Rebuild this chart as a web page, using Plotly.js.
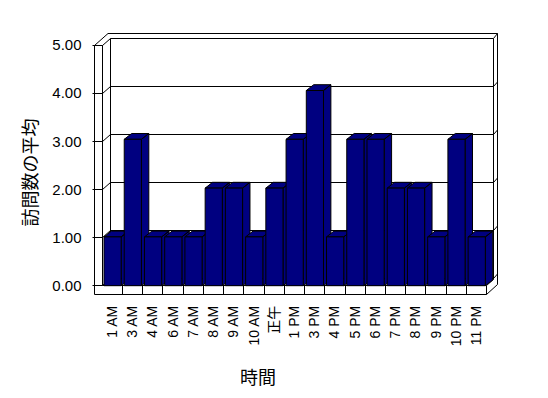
<!DOCTYPE html>
<html><head><meta charset="utf-8">
<script src="https://cdn.plot.ly/plotly-3.0.1.min.js"></script>
<style>html,body{margin:0;padding:0;background:#fff;} #chart{width:548px;height:398px;}</style>
</head><body><div id="chart"></div>
<script>
// ---- data ----
const categories = ['1 AM','3 AM','4 AM','6 AM','7 AM','8 AM','9 AM','10 AM','正午','1 PM','3 PM','4 PM','5 PM','6 PM','7 PM','8 PM','9 PM','10 PM','11 PM'];
const values = [1,3,1,1,1,2,2,1,2,3,4,1,3,3,2,2,1,3,1];
const yTickValues = [0,1,2,3,4,5];
const yTickLabels = ['0.00','1.00','2.00','3.00','4.00','5.00'];
const xTitle = '時間';
const yTitle = '訪問数の平均';

// ---- geometry (pixels) ----
const L=20, R=496, T=43, B=302;
const X0=102.3, CW=20.23;      // left edge of first category, category width
const Y0=285.7;                 // value 0 on the front plane
const SB=48.8, SA=48.14;        // px per unit: bars / front axis
const BAR_W=0.85, BAR_OFF=-0.416;
const DX=7.4/CW, DY=5.8/SB;     // bar depth
const NAVY='#000080';
const TICKFONT={family:'Liberation Sans, Arial, Noto Sans CJK JP, sans-serif', size:14, color:'#000'};
const YTICKFONT={family:'Liberation Sans, Arial, sans-serif', size:15, color:'#000'};
const CJKFONT={family:'Noto Sans CJK JP, sans-serif', size:18, color:'#000'};

const idx = categories.map((c,i)=>i);
const xRange=[(L-X0)/CW-0.5,(R-X0)/CW-0.5];
const yBarRange=[(Y0-B)/SB,(Y0-T)/SB];
const yAxRange=[(Y0-B)/SA,(Y0-T)/SA];

// 3D faces (side + top) of each bar, computed from the values
const faceTraces = idx.map(i=>{
  const v=values[i], xl=i+BAR_OFF, xr=xl+BAR_W;
  return {type:'scatter', mode:'lines', xaxis:'x', yaxis:'y',
    x:[xr,xr,xr+DX,xr+DX,xr,null,xl,xr,xr+DX,xl+DX,xl],
    y:[0,v,v+DY,DY,0,null,v,v,v+DY,v+DY,v],
    fill:'toself', fillcolor:NAVY, line:{color:'#000',width:1},
    hoverinfo:'skip', showlegend:false};
});
const barTrace = {type:'bar', x:idx, y:values, xaxis:'x', yaxis:'y2',
  width:BAR_W, offset:BAR_OFF,
  marker:{color:NAVY, line:{color:'#000', width:1}},
  hoverinfo:'skip', showlegend:false};
// carrier for the value axis (front plane scale)
const axisTrace = {type:'scatter', mode:'markers', x:[0], y:[0], xaxis:'x', yaxis:'y3',
  marker:{opacity:0, size:1}, hoverinfo:'skip', showlegend:false};

// ---- frame (walls, floor, gridlines) ----
const px = p=>(p-L)/(R-L), py = p=>(B-p)/(B-T);
const half = p=>Math.floor(p)+0.5;
const shapes=[];
function seg(x0,y0,x1,y1){shapes.push({type:'line',xref:'paper',yref:'paper',layer:'below',
  x0:px(x0),y0:py(y0),x1:px(x1),y1:py(y1),line:{color:'#000',width:1}});}
const fy = v=>half(Y0-SA*v);           // front plane
const by = v=>278.5-48*v;              // back wall
// left wall
seg(94.5,45.5,94.5,294.5); seg(102.5,45.5,102.5,285.5); seg(94.5,45.5,102.5,45.5);
seg(94.5,45.5,108,33.5);
yTickValues.forEach(v=>{ seg(92.5,fy(v),102.5,fy(v)); seg(102.5,fy(v),110.5,by(v)); });
// back wall
seg(110.5,38.5,110.5,278.5); seg(110.5,38.5,493.5,38.5); seg(108,33.5,497.5,33.5);
seg(493.5,38.5,493.5,279.5); seg(497.5,33.5,497.5,284.5); seg(493.5,38.5,497.5,33.5);
[0,1,2,3,4].forEach(v=>{ seg(110.5,by(v),493.5,by(v)); seg(493.5,by(v),497.5,by(v)-4.5); });
// floor
const xEnd = half(X0+CW*categories.length);
seg(102.5,285.5,xEnd,285.5); seg(94.5,294.5,xEnd,294.5); seg(xEnd,285.5,xEnd,294.5);
for(let k=1;k<categories.length;k++){ const x=half(X0+CW*k); seg(x,285.5,x,294.5); }
seg(xEnd,285.5,493.5,279.5); seg(xEnd,294.5,497.5,284.5);

const layout={width:548,height:398,margin:{l:L,r:548-R,t:T,b:398-B,pad:0},
  paper_bgcolor:'#fff', plot_bgcolor:'rgba(0,0,0,0)', showlegend:false, shapes:shapes,
  xaxis:{range:xRange, tickmode:'array', tickvals:idx, ticktext:categories, tickangle:-90,
    showgrid:false, zeroline:false, showline:false, ticks:'', tickfont:TICKFONT,
    title:{text:xTitle, font:CJKFONT, standoff:26}, fixedrange:true},
  yaxis:{range:yBarRange, visible:false, fixedrange:true},
  yaxis2:{range:yBarRange, overlaying:'y', visible:false, fixedrange:true},
  yaxis3:{range:yAxRange, overlaying:'y', anchor:'free', position:px(94.5), side:'left',
    tickmode:'array', tickvals:yTickValues, ticktext:yTickLabels,
    showgrid:false, zeroline:false, showline:false, ticks:'', tickfont:YTICKFONT,
    ticklabelstandoff:13, title:{text:yTitle, font:CJKFONT, standoff:8}, fixedrange:true}
};
Plotly.newPlot('chart',[...faceTraces, barTrace, axisTrace],layout,{displayModeBar:false});
</script></body></html>
